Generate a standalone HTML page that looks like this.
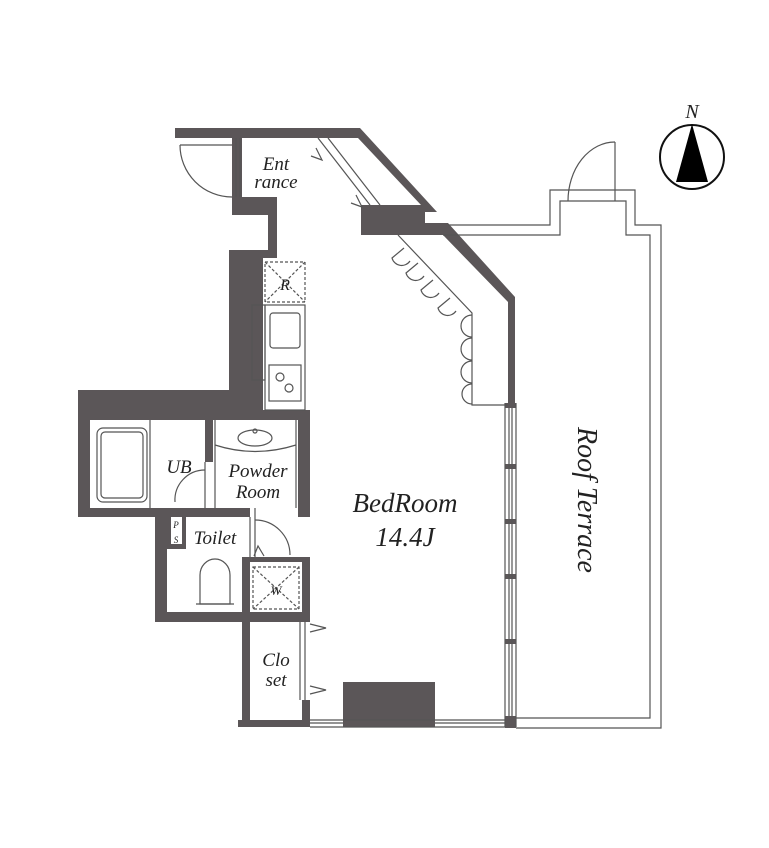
<!DOCTYPE html>
<html><head><meta charset="utf-8"><style>
html,body{margin:0;padding:0;background:#fff;}
svg{display:block;}
text{font-family:"Liberation Serif",serif;font-style:italic;fill:#222;}
</style></head><body>
<svg width="769" height="848" viewBox="0 0 769 848" xmlns="http://www.w3.org/2000/svg">
<g fill="#5b5658" stroke="none">
<polygon points="175,128 360,128 437,212 425,212 425,223 448,223 515,297 515,403 508,403 508,302 443,235 361,235 361,205 421,205 358,138 242,138 242,197 232,197 232,138 175,138"/>
<polygon points="232,197 277,197 277,258 263,258 263,410 310,410 310,420 213,420 213,462 205,462 205,420 90,420 90,508 250,508 250,517 78,517 78,390 229,390 229,250 268,250 268,215 232,215"/>
<rect x="298" y="410" width="12" height="107"/>
<rect x="155" y="517" width="12" height="105"/>
<rect x="167" y="517" width="4" height="31"/>
<rect x="182" y="517" width="4" height="31"/>
<rect x="167" y="544" width="19" height="5"/>
<rect x="155" y="612" width="155" height="10"/>
<rect x="242" y="557" width="8" height="170"/>
<rect x="242" y="557" width="68" height="5"/>
<rect x="302" y="557" width="8" height="65"/>
<rect x="302" y="700" width="8" height="27"/>
<rect x="238" y="720" width="72" height="7"/>
<rect x="343" y="682" width="92" height="45"/>
<rect x="505" y="403" width="11" height="5"/>
<rect x="505" y="464" width="11" height="5"/>
<rect x="505" y="519" width="11" height="5"/>
<rect x="505" y="574" width="11" height="5"/>
<rect x="505" y="639" width="11" height="5"/>
<rect x="505" y="716" width="11" height="12"/>
</g>
<g fill="none" stroke="#555" stroke-width="1.2">
<line x1="232" y1="145" x2="180" y2="145"/>
<path d="M180,145 A52,52 0 0 0 232,197"/>
<line x1="236" y1="138" x2="236" y2="197"/><line x1="240" y1="138" x2="240" y2="197"/>
<line x1="318" y1="138" x2="370" y2="205"/><line x1="328" y1="138" x2="380" y2="205"/>
<polyline points="316,148 322,160 311,156"/><polyline points="356,195 362,207 351,203"/>
<polyline points="448,225 550,225 550,190 635,190 635,225 661,225 661,728 516,728"/>
<polyline points="443,235 560,235 560,201 626,201 626,235 650,235 650,718 516,718"/>
<line x1="615" y1="142" x2="615" y2="201"/>
<path d="M568,201 A47,59 0 0 1 615,142"/>
<line x1="505" y1="403" x2="505" y2="727"/><line x1="516" y1="403" x2="516" y2="727"/>
<line x1="509" y1="408" x2="509" y2="716"/><line x1="512" y1="408" x2="512" y2="716"/>
<line x1="310" y1="720" x2="505" y2="720"/><line x1="310" y1="727" x2="505" y2="727"/>
<line x1="310" y1="723" x2="343" y2="723"/><line x1="435" y1="723" x2="505" y2="723"/>
<polyline points="398,235 472,313 472,405 508,405"/>
<path d="M404,248 l-12,10 a10,10 0 0 0 18,3"/>
<path d="M418,263 l-12,10 a10,10 0 0 0 18,3"/>
<path d="M433,280 l-12,10 a10,10 0 0 0 18,3"/>
<path d="M450,298 l-12,10 a10,10 0 0 0 18,3"/>
<path d="M472,315 a11,11 0 0 0 0,22"/>
<path d="M472,338 a11,11 0 0 0 0,22"/>
<path d="M472,361 a11,11 0 0 0 0,22"/>
<path d="M472,384 a10,10 0 0 0 0,20"/>
<rect x="265" y="305" width="40" height="105"/>
<rect x="252" y="305" width="13" height="75"/>
<rect x="270" y="313" width="30" height="35" rx="3"/>
<rect x="269" y="365" width="32" height="36"/>
<circle cx="280" cy="377" r="4"/><circle cx="289" cy="388" r="4"/>
<rect x="265" y="262" width="40" height="40" stroke-dasharray="3,2"/>
<line x1="265" y1="262" x2="305" y2="302" stroke-dasharray="3,2"/><line x1="305" y1="262" x2="265" y2="302" stroke-dasharray="3,2"/>
<rect x="97" y="428" width="50" height="74" rx="6"/>
<rect x="101" y="432" width="42" height="66" rx="4"/>
<line x1="150" y1="420" x2="150" y2="508"/>
<path d="M205,470 A30,30 0 0 0 175,502"/>
<line x1="205" y1="462" x2="205" y2="508"/>
<path d="M215,445 Q255,458 296,445"/>
<ellipse cx="255" cy="438" rx="17" ry="8"/>
<circle cx="255" cy="431" r="2"/>
<line x1="215" y1="420" x2="215" y2="508"/><line x1="296" y1="420" x2="296" y2="508"/>
<line x1="250" y1="517" x2="250" y2="557"/><line x1="255" y1="508" x2="255" y2="557"/>
<path d="M255,520 A35,35 0 0 1 290,555"/>
<polyline points="254,556 258,546 264,556"/>
<path d="M200,604 L200,575 A15,16 0 0 1 230,575 L230,604 Z"/>
<line x1="196" y1="604" x2="234" y2="604"/>
<rect x="253" y="567" width="46" height="42" stroke-dasharray="3,2"/>
<line x1="253" y1="567" x2="299" y2="609" stroke-dasharray="3,2"/><line x1="299" y1="567" x2="253" y2="609" stroke-dasharray="3,2"/>
<line x1="300" y1="622" x2="300" y2="700"/><line x1="305" y1="622" x2="305" y2="700"/>
<polyline points="310,624 326,628 310,632"/><polyline points="310,686 326,690 310,694"/>
<circle cx="692" cy="157" r="32" stroke="#111" stroke-width="2"/>
</g>
<polygon points="692,124 676,182 708,182" fill="#000"/>
<text x="692" y="118" font-size="20" text-anchor="middle">N</text>
<text x="276" y="170" font-size="19" text-anchor="middle">Ent</text>
<text x="276" y="188" font-size="19" text-anchor="middle">rance</text>
<text x="285" y="290" font-size="16" text-anchor="middle">R</text>
<text x="179" y="473" font-size="19" text-anchor="middle">UB</text>
<text x="258" y="477" font-size="19" text-anchor="middle">Powder</text>
<text x="258" y="498" font-size="19" text-anchor="middle">Room</text>
<text x="176" y="528" font-size="9" text-anchor="middle">P</text>
<text x="176" y="543" font-size="9" text-anchor="middle">S</text>
<text x="215" y="544" font-size="19" text-anchor="middle">Toilet</text>
<text x="276" y="595" font-size="13" text-anchor="middle">W</text>
<text x="276" y="666" font-size="19" text-anchor="middle">Clo</text>
<text x="276" y="686" font-size="19" text-anchor="middle">set</text>
<text x="405" y="512" font-size="27" text-anchor="middle">BedRoom</text>
<text x="405" y="546" font-size="27" text-anchor="middle">14.4J</text>
<text transform="translate(578,500) rotate(90)" font-size="28" text-anchor="middle">Roof Terrace</text>
</svg>
</body></html>
